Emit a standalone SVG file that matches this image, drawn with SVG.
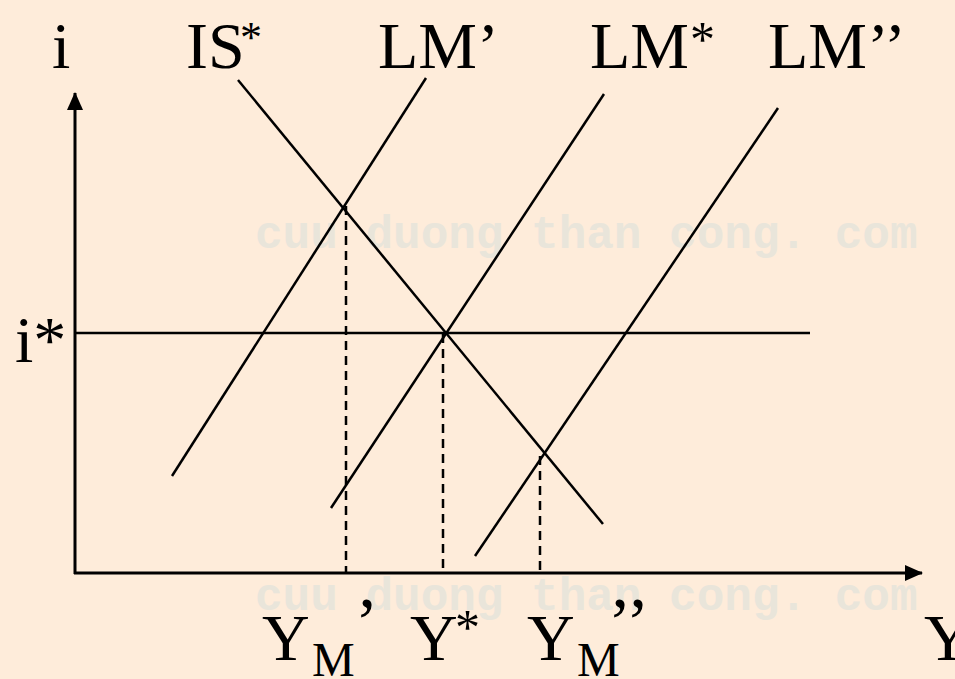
<svg xmlns="http://www.w3.org/2000/svg" width="955" height="679" viewBox="0 0 955 679">
<style>
.t{font-family:"Liberation Serif","Times New Roman",serif;fill:#000}
.wm{font-family:"Liberation Mono","Courier New",monospace;font-size:46px;font-weight:bold;fill:#E9E5DA}
.ln{stroke:#000;stroke-width:2.5;fill:none}
.ax{stroke:#000;stroke-width:3;fill:none}
.ds{stroke:#000;stroke-width:2.5;fill:none;stroke-dasharray:9 6}
</style>
<defs>
<marker id="ah" viewBox="0 0 18 16" refX="17" refY="8" markerWidth="18" markerHeight="16" markerUnits="userSpaceOnUse" orient="auto">
<path d="M0,0 L18,8 L0,16 Z" fill="#000"/>
</marker>
</defs>
<rect width="955" height="679" fill="#FEECDA"/>
<text class="wm" x="255" y="248">cuu duong than cong. com</text>
<text class="wm" x="255" y="610">cuu duong than cong. com</text>
<g id="axes">
<line class="ax" x1="75" y1="574" x2="75" y2="93" marker-end="url(#ah)"/>
<line class="ax" x1="74" y1="573" x2="922" y2="573" marker-end="url(#ah)"/>
</g>
<g id="connectors">
<line id="IS" class="ln" x1="238" y1="80" x2="603" y2="524"/>
<line id="LMp" class="ln" x1="172" y1="476" x2="426" y2="78"/>
<line id="LMs" class="ln" x1="331" y1="508" x2="604" y2="94"/>
<line id="LMpp" class="ln" x1="475" y1="556" x2="778" y2="108"/>
<line id="istar" class="ln" x1="75" y1="333" x2="810" y2="333"/>
<line class="ds" x1="346" y1="206" x2="346" y2="573"/>
<line class="ds" x1="443" y1="334" x2="443" y2="573"/>
<line class="ds" x1="540" y1="456" x2="540" y2="573"/>
</g>
<g id="label-i"><text class="t" x="52" y="68" font-size="66">i</text></g>
<g id="label-IS"><text class="t" x="186" y="68" font-size="66">IS</text><text class="t" x="240" y="52" font-size="44">*</text></g>
<g id="label-LMp"><text class="t" x="378" y="68" font-size="66">LM’</text></g>
<g id="label-LMs"><text class="t" x="590" y="68" font-size="66">LM</text><text class="t" x="690" y="56" font-size="50">*</text></g>
<g id="label-LMpp"><text class="t" x="768" y="68" font-size="66">LM’’</text></g>
<g id="label-istar"><text class="t" x="15" y="362" font-size="66">i*</text></g>
<g id="label-YMp"><text class="t" x="262" y="660" font-size="66">Y</text><text class="t" x="312" y="676" font-size="48">M</text><text class="t" x="355" y="646" font-size="70">’</text></g>
<g id="label-Ys"><text class="t" x="410" y="660" font-size="66">Y</text><text class="t" x="455" y="644" font-size="50">*</text></g>
<g id="label-YMpp"><text class="t" x="527" y="660" font-size="66">Y</text><text class="t" x="577" y="676" font-size="48">M</text><text class="t" x="608" y="646" font-size="70">’’</text></g>
<g id="label-Y"><text class="t" x="924" y="660" font-size="66">Y</text></g>
</svg>
